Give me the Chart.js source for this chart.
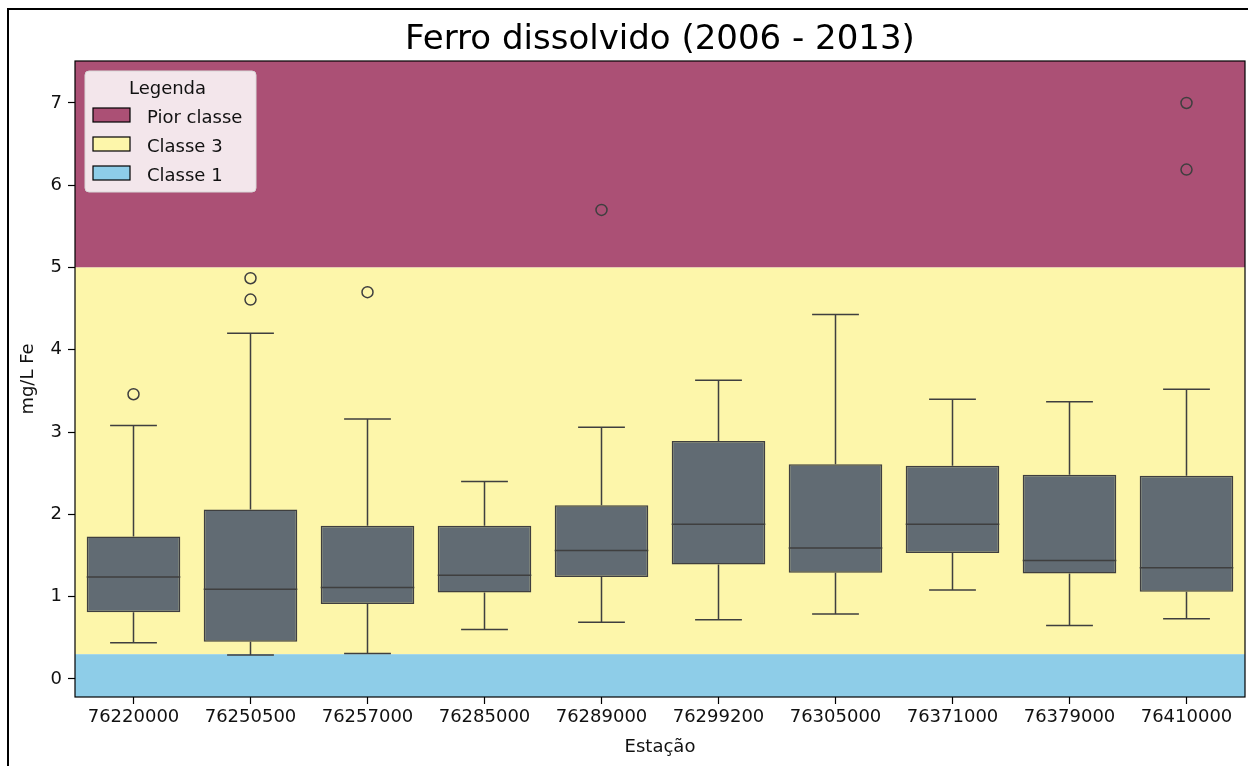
<!DOCTYPE html>
<html>
<head>
<meta charset="utf-8">
<script src="https://cdn.jsdelivr.net/npm/chart.js@4/dist/chart.umd.min.js"></script>
<style>
  html, body { margin: 0; padding: 0; background: #fff; overflow: hidden; }
  canvas { display: block; }
</style>
</head>
<body>
<canvas id="grafico" width="1248" height="766"></canvas>
<script>
// estações (eixo x)
const estacoes = ['76220000', '76250500', '76257000', '76285000', '76289000',
                  '76299200', '76305000', '76371000', '76379000', '76410000']

// resumo dos boxplots, mg/L Fe
const bigodeInf = [0.44, 0.29, 0.31, 0.60, 0.69, 0.72, 0.79, 1.08, 0.65, 0.73]
const q1        = [0.81, 0.45, 0.91, 1.05, 1.24, 1.39, 1.29, 1.53, 1.28, 1.06]
const mediana   = [1.24, 1.09, 1.11, 1.26, 1.56, 1.88, 1.59, 1.88, 1.44, 1.35]
const q3        = [1.73, 2.06, 1.86, 1.86, 2.11, 2.89, 2.61, 2.59, 2.48, 2.47]
const bigodeSup = [3.08, 4.20, 3.16, 2.40, 3.06, 3.63, 4.43, 3.40, 3.37, 3.52]

// outliers
const outlierEstacao = ['76220000', '76250500', '76250500', '76257000', '76289000', '76410000', '76410000']
const outlierValor   = [3.46, 4.87, 4.61, 4.70, 5.70, 7.00, 6.19]

// faixas de classe
const classes     = ['Pior classe', 'Classe 3', 'Classe 1']
const classeInf   = [5, 0.3, -Infinity]
const classeSup   = [Infinity, 5, 0.3]
const classeCores = ['#ab5075', '#fdf6aa', '#8ecde8']

const yMin = -0.22
const yMax = 7.51
const yTicks = [0, 1, 2, 3, 4, 5, 6, 7]

const titulo = 'Ferro dissolvido (2006 - 2013)'

Chart.defaults.font.family = "'DejaVu Sans', sans-serif"
Chart.defaults.color = '#111'

const corLinha = '#3f3f3f'

const faixasPlugin = {
  id: 'faixas',
  beforeDraw(chart) {
    const ctx = chart.ctx
    ctx.save()
    ctx.fillStyle = '#fff'
    ctx.fillRect(0, 0, chart.width, chart.height)
    ctx.strokeStyle = '#000'
    ctx.lineWidth = 2
    ctx.strokeRect(8, 9, chart.width + 40, chart.height + 40)
    ctx.restore()
  },
  beforeDatasetsDraw(chart) {
    const ctx = chart.ctx
    const a = chart.chartArea
    const y = chart.scales.y
    ctx.save()
    for (let i = 0; i < classes.length; i++) {
      const top = y.getPixelForValue(Math.min(classeSup[i], yMax))
      const bot = y.getPixelForValue(Math.max(classeInf[i], yMin))
      ctx.fillStyle = classeCores[i]
      ctx.fillRect(a.left, top, a.right - a.left, bot - top)
    }
    ctx.restore()
  }
}

const boxPlugin = {
  id: 'bigodes',
  afterDatasetsDraw(chart) {
    const ctx = chart.ctx
    const x = chart.scales.x
    const y = chart.scales.y
    const barras = chart.getDatasetMeta(0).data
    ctx.save()
    ctx.strokeStyle = corLinha
    ctx.lineWidth = 1.5
    for (let i = 0; i < estacoes.length; i++) {
      const cx = x.getPixelForValue(i)
      const meia = barras[i].width / 2
      const cap = meia / 2
      ctx.beginPath()
      // bigode superior
      ctx.moveTo(cx, y.getPixelForValue(q3[i]))
      ctx.lineTo(cx, y.getPixelForValue(bigodeSup[i]))
      ctx.moveTo(cx - cap, y.getPixelForValue(bigodeSup[i]))
      ctx.lineTo(cx + cap, y.getPixelForValue(bigodeSup[i]))
      // bigode inferior
      ctx.moveTo(cx, y.getPixelForValue(q1[i]))
      ctx.lineTo(cx, y.getPixelForValue(bigodeInf[i]))
      ctx.moveTo(cx - cap, y.getPixelForValue(bigodeInf[i]))
      ctx.lineTo(cx + cap, y.getPixelForValue(bigodeInf[i]))
      // mediana
      ctx.moveTo(cx - meia, y.getPixelForValue(mediana[i]))
      ctx.lineTo(cx + meia, y.getPixelForValue(mediana[i]))
      ctx.stroke()
    }
    ctx.restore()
  },
  afterDraw(chart) {
    const ctx = chart.ctx
    const a = chart.chartArea
    ctx.save()
    // moldura dos eixos
    ctx.strokeStyle = '#000'
    ctx.lineWidth = 1.2
    ctx.strokeRect(a.left, a.top, a.right - a.left, a.bottom - a.top)

    // título centrado na área do gráfico
    ctx.font = "34px 'DejaVu Sans'"
    ctx.fillStyle = '#000'
    ctx.textAlign = 'center'
    ctx.textBaseline = 'alphabetic'
    ctx.fillText(titulo, (a.left + a.right) / 2, 48.5)

    // legenda
    const lx = 85, ly = 71, lw = 171, lh = 121
    ctx.fillStyle = 'rgba(255,255,255,0.86)'
    ctx.strokeStyle = '#d8d8d8'
    ctx.lineWidth = 1
    ctx.beginPath()
    if (ctx.roundRect) ctx.roundRect(lx, ly, lw, lh, 4)
    else ctx.rect(lx, ly, lw, lh)
    ctx.fill()
    ctx.stroke()

    ctx.font = "18px 'DejaVu Sans'"
    ctx.fillStyle = '#111'
    ctx.textAlign = 'center'
    ctx.fillText('Legenda', lx + lw / 2 - 3, 94)
    ctx.textAlign = 'left'
    for (let i = 0; i < classes.length; i++) {
      const py = 108 + i * 29
      ctx.fillStyle = classeCores[i]
      ctx.fillRect(93, py, 37, 14)
      ctx.strokeStyle = '#000'
      ctx.lineWidth = 1.2
      ctx.strokeRect(93, py, 37, 14)
      ctx.fillStyle = '#111'
      ctx.fillText(classes[i], 147, py + 15)
    }
    ctx.restore()
  }
}

const caixas = estacoes.map((e, i) => [q1[i], q3[i]])
const pontos = outlierEstacao.map((e, i) => ({ x: e, y: outlierValor[i] }))

new Chart(document.getElementById('grafico'), {
  type: 'bar',
  data: {
    labels: estacoes,
    datasets: [{
      data: caixas,
      backgroundColor: '#616b73',
      borderColor: corLinha,
      borderWidth: 1.5,
      borderSkipped: false,
      barPercentage: 0.8,
      categoryPercentage: 1.0
    }, {
      type: 'line',
      data: pontos,
      showLine: false,
      pointStyle: 'circle',
      pointRadius: 5.5,
      pointBackgroundColor: 'rgba(0,0,0,0)',
      pointBorderColor: corLinha,
      pointBorderWidth: 1.5
    }]
  },
  options: {
    responsive: false,
    animation: false,
    layout: { padding: { left: 0, right: 3, top: 61, bottom: 0 }, autoPadding: false },
    plugins: {
      legend: { display: false },
      tooltip: { enabled: false },
      title: { display: false }
    },
    scales: {
      x: {
        type: 'category',
        offset: true,
        grid: { display: true, offset: false, drawOnChartArea: false, tickLength: 7, tickColor: '#000', tickWidth: 1.2 },
        border: { display: false },
        ticks: { font: { size: 18 }, padding: 3, maxRotation: 0, autoSkip: false },
        title: { display: true, text: 'Estação', font: { size: 18 }, padding: { top: 0, bottom: 8 } },
        afterFit(scale) { scale.height = 69 }
      },
      y: {
        min: yMin,
        max: yMax,
        grid: { display: true, drawOnChartArea: false, tickLength: 7, tickColor: '#000', tickWidth: 1.2 },
        border: { display: false },
        ticks: { font: { size: 18 }, padding: 6, includeBounds: false },
        afterBuildTicks(scale) { scale.ticks = yTicks.map(v => ({ value: v })) },
        title: { display: true, text: 'mg/L Fe', font: { size: 18 }, padding: { top: 18, bottom: 0 } },
        afterFit(scale) { scale.width = 75 }
      }
    }
  },
  plugins: [faixasPlugin, boxPlugin]
})
</script>
</body>
</html>
